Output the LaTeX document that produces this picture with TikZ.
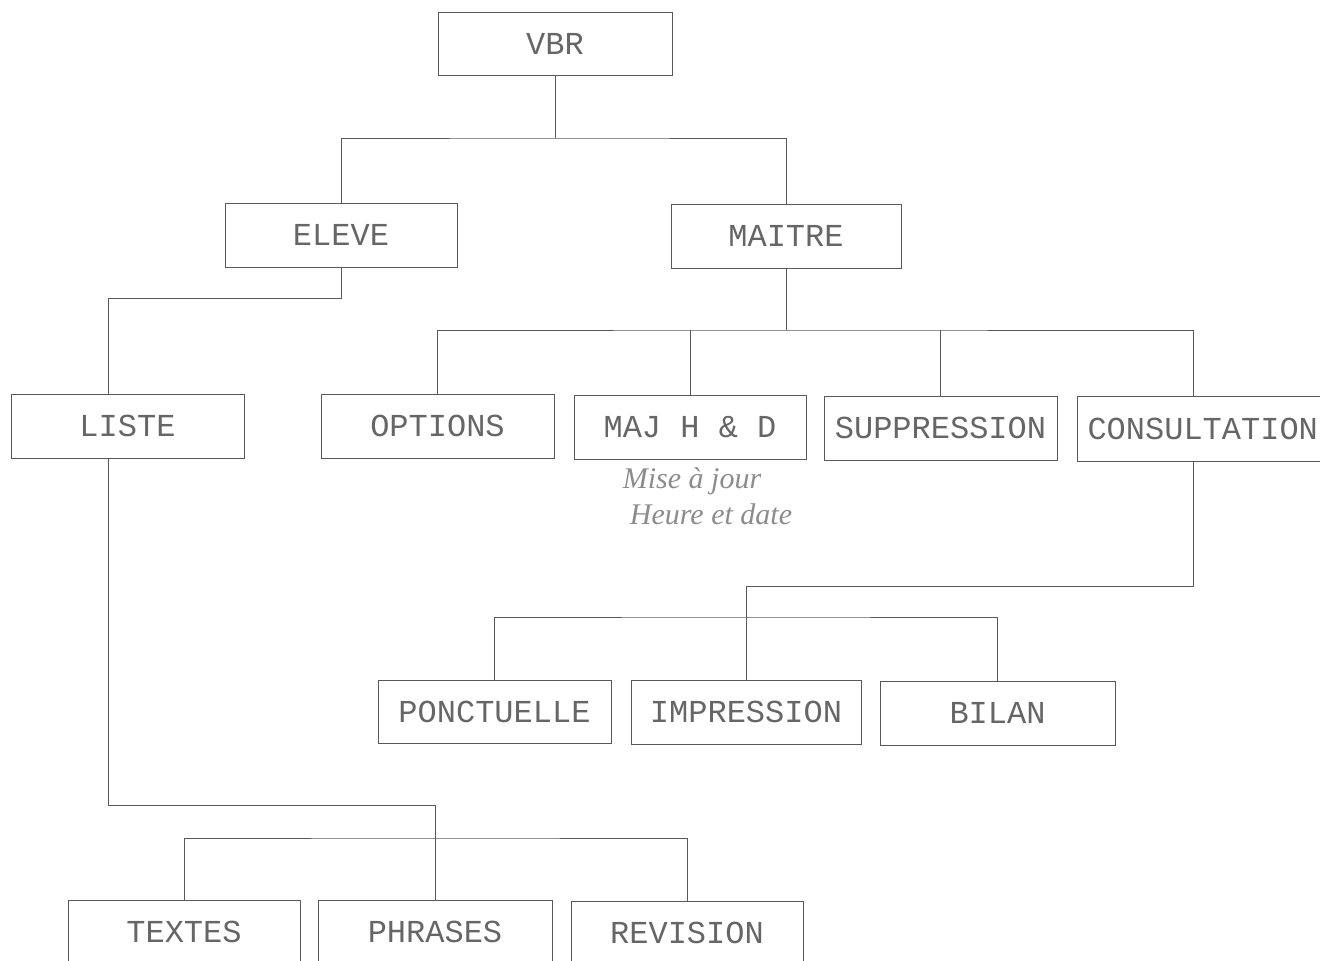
\documentclass[tikz,border=0pt]{standalone}
\usepackage{fontspec}
\setmonofont{Liberation Mono}
\newfontfamily\handfont{Liberation Serif}
\begin{document}
\begin{tikzpicture}[x=1pt,y=-1pt,
  box/.style={draw=black!65, line width=0.8pt, minimum width=233pt, minimum height=64pt,
    inner sep=0pt, font=\ttfamily\fontsize{32}{32}\selectfont, text=black!60},
  link/.style={draw=black!65, line width=0.8pt},
  hand/.style={font=\handfont\itshape\fontsize{30}{30}\selectfont, text=black!45, inner sep=0pt}]
\useasboundingbox (0,0) rectangle (1320,961);
\clip (0,0) rectangle (1320,961);
% nodes
\node[box, minimum width=234pt, minimum height=63pt] (vbr) at (555,43.5) {VBR};
\node[box, minimum width=232pt] (eleve) at (341,235) {ELEVE};
\node[box, minimum width=230pt] (maitre) at (786,236) {MAITRE};
\node[box] (liste) at (127.5,426) {LISTE};
\node[box] (options) at (437.5,426) {OPTIONS};
\node[box, minimum width=232pt] (maj) at (690,427) {MAJ H \& D};
\node[box] (supp) at (940.5,428) {SUPPRESSION};
\node[box, minimum width=266pt, minimum height=65pt, text width=233pt, align=left] (cons) at (1210,428.5) {\hspace*{-6pt}CONSULTATION};
\node[box, minimum height=63pt] (ponc) at (494.5,711.5) {PONCTUELLE};
\node[box, minimum width=230pt] (impr) at (746,712) {IMPRESSION};
\node[box, minimum width=235pt] (bilan) at (997.5,713) {BILAN};
\node[box, minimum width=232pt] (textes) at (184,932) {TEXTES};
\node[box, minimum width=234pt] (phrases) at (435,932) {PHRASES};
\node[box, minimum width=232pt] (revision) at (687,933) {REVISION};
\node[hand] (note1) at (692,481) {Mise à jour};
\node[hand] (note2) at (711,514) {Heure et date};
% junctions
\coordinate (j1) at (555,138);
\coordinate (j2) at (341,298);
\coordinate (j3) at (786,330);
\coordinate (j4) at (746,586);
\coordinate (j5) at (746,617);
\coordinate (j6) at (435,805);
\coordinate (j7) at (435,838);
% connectors
\draw[link] (vbr.south) -- (j1);
\draw[link] (eleve.north) |- (j1) -| (maitre.north);
\draw[link] (eleve.south) -- (j2) -| ([xshift=-19.5pt]liste.north);
\draw[link] (maitre.south) -- (j3);
\draw[link] (options.north) |- (j3) -| ([xshift=-17pt]cons.north);
\draw[link] (maj.north) -- (maj.north |- j3);
\draw[link] (supp.north) -- (supp.north |- j3);
\draw[link] ([xshift=-17pt]cons.south) |- (j4) -- (impr.north);
\draw[link] (ponc.north) |- (j5) -| (bilan.north);
\draw[link] ([xshift=-19.5pt]liste.south) |- (j6) -- (phrases.north);
\draw[link] (textes.north) |- (j7) -| (revision.north);
\end{tikzpicture}
\end{document}
